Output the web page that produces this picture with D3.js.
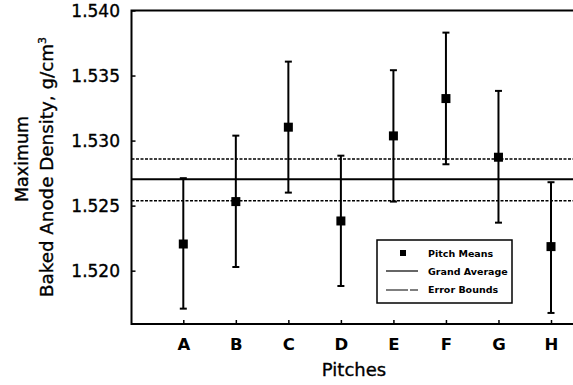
<!DOCTYPE html>
<html>
<head>
<meta charset="utf-8">
<script src="https://cdn.jsdelivr.net/npm/d3@7"></script>
<style>
  body { margin: 0; background: #fff; }
  svg { display: block; font-family: "DejaVu Sans", sans-serif; }
  .heavy { stroke: #000; stroke-width: 0.35px; }
</style>
</head>
<body>
<svg width="573" height="385"></svg>
<script>
// Data
const pitches = ["A", "B", "C", "D", "E", "F", "G", "H"];
const means = [1.52205, 1.52531, 1.53103, 1.52382, 1.53036, 1.53323, 1.52872, 1.52185];
const upper = [1.52711, 1.53038, 1.53607, 1.52884, 1.53541, 1.53830, 1.53382, 1.52680];
const lower = [1.51708, 1.52028, 1.52600, 1.51882, 1.52531, 1.52818, 1.52369, 1.51675];
const grandAverage = 1.52703;
const errorBounds = [1.52859, 1.52538];
const yTicks = [1.520, 1.525, 1.530, 1.535, 1.540];
const legendLabels = ["Pitch Means", "Grand Average", "Error Bounds"];

// Plot frame
const plotLeft = 131.5, plotRight = 580, plotTop = 10.5, plotBottom = 324;

const svg = d3.select("svg");

const y = d3.scaleLinear()
  .domain([1.5159, 1.540])
  .range([plotBottom, plotTop]);

// category positions, one step in from the left frame
const x = d3.scalePoint()
  .domain(pitches)
  .range([183.3, 551]);

// frame lines (left, bottom, top)
svg.append("path")
  .attr("d", `M${plotRight},${plotTop}H${plotLeft}V${plotBottom}H${plotRight}`)
  .attr("fill", "none")
  .attr("stroke", "#000")
  .attr("stroke-width", 2);

// Y axis ticks and labels
const yAxis = svg.append("g")
  .attr("transform", `translate(${plotLeft},0)`)
  .call(d3.axisRight(y).tickValues(yTicks).tickSize(4).tickFormat(d3.format(".3f")));
yAxis.select(".domain").remove();
yAxis.selectAll("line").attr("stroke-width", 1.5);
yAxis.selectAll("text")
  .attr("class", "heavy")
  .attr("x", -11.5)
  .attr("dy", "0.36em")
  .attr("text-anchor", "end")
  .attr("font-size", 17)
  .attr("font-family", "DejaVu Sans, sans-serif")
  .attr("fill", "#000");

// X axis ticks and labels
const xAxis = svg.append("g")
  .attr("transform", `translate(0,${plotBottom})`)
  .call(d3.axisTop(x).tickSize(4));
xAxis.select(".domain").remove();
xAxis.selectAll("line").attr("stroke-width", 1.5);
xAxis.selectAll("text")
  .attr("y", 26)
  .attr("dy", 0)
  .attr("text-anchor", "middle")
  .attr("font-size", 16.5)
  .attr("font-weight", "bold")
  .attr("font-family", "DejaVu Sans, sans-serif")
  .attr("fill", "#000");

// Axis titles
svg.append("text")
  .attr("class", "heavy")
  .attr("x", 354)
  .attr("y", 376)
  .attr("text-anchor", "middle")
  .attr("font-size", 18)
  .text("Pitches");

svg.append("text")
  .attr("class", "heavy")
  .attr("transform", "translate(28,159) rotate(-90)")
  .attr("text-anchor", "middle")
  .attr("font-size", 17.5)
  .text("Maximum");

const yTitle = svg.append("text")
  .attr("class", "heavy")
  .attr("transform", "translate(53,167) rotate(-90)")
  .attr("text-anchor", "middle")
  .attr("font-size", 18.3);
yTitle.append("tspan").text("Baked Anode Density, g/cm");
yTitle.append("tspan").attr("dy", -7).attr("font-size", 11).text("3");

// Reference lines
svg.append("line")
  .attr("x1", plotLeft).attr("x2", plotRight)
  .attr("y1", y(grandAverage)).attr("y2", y(grandAverage))
  .attr("stroke", "#000").attr("stroke-width", 2);

svg.selectAll(".bound")
  .data(errorBounds)
  .enter()
  .append("line")
  .attr("class", "bound")
  .attr("x1", plotLeft).attr("x2", plotRight)
  .attr("y1", d => y(d)).attr("y2", d => y(d))
  .attr("stroke", "#000")
  .attr("stroke-width", 1.5)
  .attr("stroke-dasharray", "3,1.5");

// Error bars
const bars = svg.selectAll(".bar")
  .data(pitches)
  .enter()
  .append("g")
  .attr("class", "bar");

bars.append("line")
  .attr("x1", d => x(d)).attr("x2", d => x(d))
  .attr("y1", (d, i) => y(upper[i])).attr("y2", (d, i) => y(lower[i]))
  .attr("stroke", "#000").attr("stroke-width", 2);

bars.append("line")
  .attr("x1", d => x(d) - 3.5).attr("x2", d => x(d) + 3.5)
  .attr("y1", (d, i) => y(upper[i])).attr("y2", (d, i) => y(upper[i]))
  .attr("stroke", "#000").attr("stroke-width", 2);

bars.append("line")
  .attr("x1", d => x(d) - 3.5).attr("x2", d => x(d) + 3.5)
  .attr("y1", (d, i) => y(lower[i])).attr("y2", (d, i) => y(lower[i]))
  .attr("stroke", "#000").attr("stroke-width", 2);

bars.append("rect")
  .attr("x", d => x(d) - 4.5)
  .attr("y", (d, i) => y(means[i]) - 4.5)
  .attr("width", 9).attr("height", 9)
  .attr("fill", "#000");

// Legend
const legend = svg.append("g").attr("transform", "translate(377,240)");
legend.append("rect")
  .attr("width", 135).attr("height", 63)
  .attr("fill", "#fff")
  .attr("stroke", "#000").attr("stroke-width", 1.5);

legend.append("rect")
  .attr("x", 23).attr("y", 10).attr("width", 6).attr("height", 6)
  .attr("fill", "#000");
legend.append("line")
  .attr("x1", 9).attr("x2", 41).attr("y1", 31).attr("y2", 31)
  .attr("stroke", "#000").attr("stroke-width", 1.2);
legend.append("line")
  .attr("x1", 9).attr("x2", 41).attr("y1", 50).attr("y2", 50)
  .attr("stroke", "#000").attr("stroke-width", 1.2)
  .attr("stroke-dasharray", "22,2,8");

legend.selectAll(".lbl")
  .data(legendLabels)
  .enter()
  .append("text")
  .attr("class", "lbl")
  .attr("x", 51)
  .attr("y", (d, i) => 17 + i * 18)
  .attr("font-size", 9.5)
  .attr("font-weight", "bold")
  .text(d => d);
</script>
</body>
</html>
